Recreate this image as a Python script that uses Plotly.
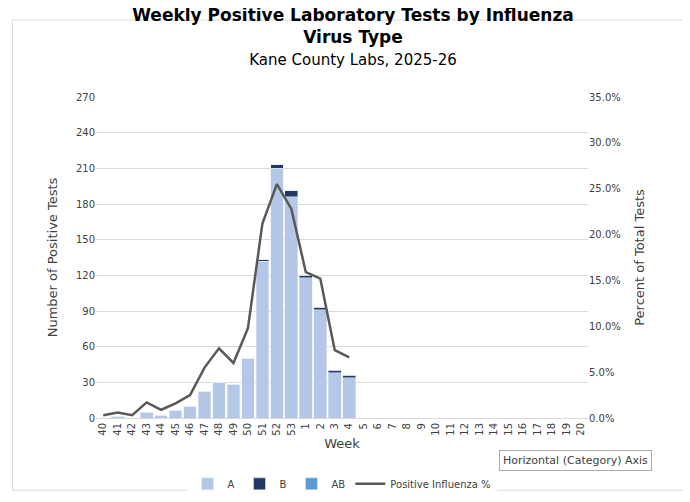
import plotly.graph_objects as go

weeks = [str(w) for w in list(range(40, 54)) + list(range(1, 21))]
a_vals = [0, 1, 0, 5, 2, 6, 10, 22, 30, 28, 50, 132, 210, 186, 118, 91, 38, 34]
b_vals = [0, 0, 0, 0, 0, 0, 0, 0, 0, 0, 0, 1, 3, 5, 2, 2, 2, 2]
ab_vals = [0] * 18
pct_vals = [0.3, 0.6, 0.3, 1.7, 0.9, 1.6, 2.5, 5.5, 7.6, 6.0, 9.8, 21.2, 25.5, 22.8, 15.9, 15.2, 7.4, 6.6]

n = len(a_vals)
fig = go.Figure()
fig.add_trace(go.Bar(x=weeks[:n], y=a_vals, name="A", marker_color="#b4c7e7"))
fig.add_trace(go.Bar(x=weeks[:n], y=b_vals, name="B", marker_color="#203864"))
fig.add_trace(go.Bar(x=weeks[:n], y=ab_vals, name="AB", marker_color="#5b9bd5"))
fig.add_trace(go.Scatter(x=weeks[:n], y=pct_vals, name="Positive Influenza %", yaxis="y2",
                         mode="lines", line=dict(color="#595959", width=2.5)))

font = dict(family="DejaVu Sans", color="#404040")
fig.update_layout(
    width=690, height=502, barmode="stack", bargap=0.12,
    paper_bgcolor="white", plot_bgcolor="white", font=dict(size=11, **font),
    margin=dict(l=88, r=110, t=89, b=79),
    title=dict(text="<b>Weekly Positive Laboratory Tests by Influenza<br>Virus Type</b>"
               "<br><span style='font-size:15px'>Kane County Labs, 2025-26</span>",
               x=0.5, y=0.975, yanchor="top", font=dict(size=17, family="DejaVu Sans", color="black")),
    xaxis=dict(title=dict(text="Week", standoff=4), categoryorder="array", categoryarray=weeks,
               range=[-0.5, len(weeks) - 0.5], tickangle=-90, tickfont=dict(size=10),
               showline=True, linecolor="#d9d9d9", ticks=""),
    yaxis=dict(title="Number of Positive Tests", range=[0, 270], dtick=30,
               gridcolor="#d9d9d9", zeroline=False, tickfont=dict(size=10)),
    yaxis2=dict(title="Percent of Total Tests", overlaying="y", side="right", range=[0, 35],
                dtick=5, ticksuffix=".0%", showgrid=False, zeroline=False, tickfont=dict(size=10)),
    legend=dict(orientation="h", traceorder="normal", x=0.5, xanchor="center", y=-0.16,
                yanchor="top", font=dict(size=10)),
    annotations=[dict(text="Horizontal (Category) Axis", xref="paper", yref="paper", x=1.13, y=-0.1,
                      xanchor="right", yanchor="top", showarrow=False, bgcolor="white",
                      bordercolor="#aaaaaa", borderwidth=1, borderpad=3,
                      font=dict(size=11, color="#404040"))],
    shapes=[dict(type="rect", xref="paper", yref="paper", x0=-0.17, x1=1.21, y0=-0.225, y1=1.24,
                 line=dict(color="#d9d9d9", width=1))],
)
fig.write_html("out.html")
